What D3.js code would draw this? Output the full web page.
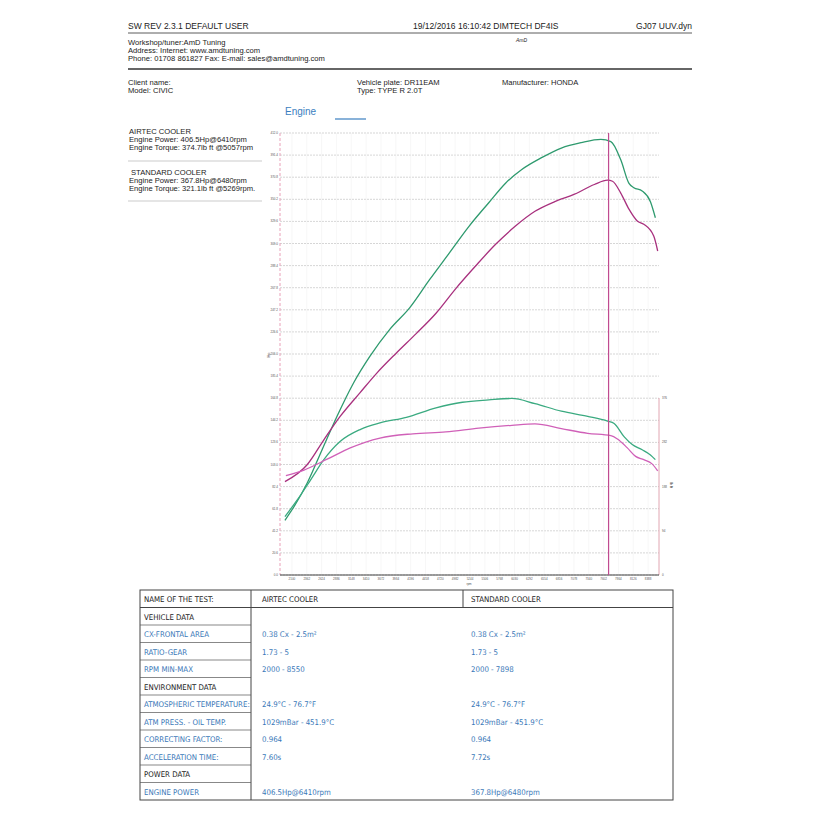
<!DOCTYPE html>
<meta charset="utf-8">
<style>body{margin:0;background:#fff} *{font-family:'Liberation Sans',Arial,sans-serif}</style>
<svg width="825" height="825"></svg>
<script src="https://d3js.org/d3.v7.min.js"></script>
<script>
// rpm, value
var rpmA = [1977,2140,2373,2635,2897,3188,3479,3828,4178,4527,4877,5226,5575,5867,6158,6507,6856,7206,7555,7730,7905,8050,8137,8283,8429,8516];
var powerA = [51,64,86,117,148,179,204,229,249,275,300,325,347,365,378,389,398,403,406,404,387,365,361,358,348,333];
var rpmB = [1977,2373,2664,2955,3304,3595,3945,4294,4644,4993,5342,5692,6041,6391,6740,7089,7439,7672,7759,7905,8050,8196,8312,8487,8557];
var powerB = [87,103,126,148,170,188,207,225,244,267,288,308,325,339,348,355,364,368,367,356,341,330,327,316,302];
var rpmTA = [1977,2198,2431,2664,2955,3304,3654,4120,4644,5110,5575,5983,6391,6856,7322,7672,7788,7963,8108,8283,8429,8516];
var torqueA = [124,160,202,245,284,309,323,335,355,367,372,375,364,348,337,327,322,294,277,266,255,245];
var rpmTB = [1994,2314,2722,3130,3654,4236,4818,5401,5983,6391,6856,7322,7730,7846,8021,8167,8312,8458,8557];
var torqueB = [211,223,246,270,291,300,304,312,318,321,311,301,296,289,270,252,245,236,221];
var cursorRpm = 7690;
var hpTicks = d3.range(0, 413, 20.6);
var tqTicks = [0, 94, 188, 282, 376];

var svg = d3.select("svg");
var x = d3.scaleLinear().domain([1890, 8580]).range([280, 659]);
var y = d3.scaleLinear().domain([0, 412]).range([575, 133]);
var y2 = d3.scaleLinear().domain([0, 376]).range([575, 398]);

function txt(xx, yy, s, size, col, anchor) {
  return svg.append("text").attr("x", xx).attr("y", yy).text(s)
    .style("font-size", (size || 7.6) + "px").attr("fill", col || "#222")
    .attr("text-anchor", anchor || "start");
}
// header
txt(128, 29, "SW REV 2.3.1   DEFAULT USER", 8.5);
txt(413, 29, "19/12/2016 16:10:42    DIMTECH DF4IS", 8.5);
txt(692, 29, "GJ07 UUV.dyn", 8.5, "#222", "end");
svg.append("line").attr("x1", 128).attr("x2", 692).attr("y1", 33).attr("y2", 33).attr("stroke", "#333").attr("stroke-width", 0.8);
txt(128, 45, "Workshop/tuner:AmD Tuning");
txt(128, 53, "Address:  Internet: www.amdtuning.com");
txt(128, 61, "Phone: 01708 861827 Fax:  E-mail: sales@amdtuning.com");
txt(516, 42, "AmD", 5, "#222").style("font-style", "italic");
svg.append("line").attr("x1", 128).attr("x2", 692).attr("y1", 69).attr("y2", 69).attr("stroke", "#333").attr("stroke-width", 1.3);
txt(128, 85, "Client name:");
txt(128, 93, "Model: CIVIC");
txt(357, 85, "Vehicle plate: DR11EAM");
txt(357, 93, "Type: TYPE R 2.0T");
txt(502, 85, "Manufacturer: HONDA");
txt(285, 115, "Engine", 10, "#3a7ec0");
svg.append("line").attr("x1", 335).attr("x2", 366).attr("y1", 119).attr("y2", 119).attr("stroke", "#3a7ec0").attr("stroke-width", 1.2);

txt(129, 134, "AIRTEC COOLER");
txt(129, 142, "Engine Power: 406.5Hp@6410rpm");
txt(129, 150, "Engine Torque: 374.7lb ft @5057rpm");
txt(131, 175, "STANDARD COOLER");
txt(129, 183, "Engine Power: 367.8Hp@6480rpm");
txt(129, 191, "Engine Torque: 321.1lb ft @5269rpm.");
[161, 201].forEach(function(v) {
  svg.append("line").attr("x1", 128).attr("x2", 262).attr("y1", v).attr("y2", v).attr("stroke", "#aaa").attr("stroke-width", 0.6);
});

// grid
var g = svg.append("g");
g.selectAll(".hg").data(hpTicks).join("line")
  .attr("x1", 280).attr("x2", 659).attr("y1", d => y(d)).attr("y2", d => y(d))
  .attr("stroke", "#bbb").attr("stroke-width", 0.6).attr("stroke-dasharray", "2,1");
var xt = d3.range(2100, 8580, 262);
g.selectAll(".vg").data(xt).join("line")
  .attr("x1", d => x(d)).attr("x2", d => x(d)).attr("y1", 133).attr("y2", 575)
  .attr("stroke", "#eee").attr("stroke-width", 0.5);
g.selectAll(".hl").data(hpTicks).join("text")
  .attr("x", 278).attr("y", d => y(d) + 1).attr("text-anchor", "end")
  .style("font-size", "3px").attr("fill", "#555").text(d => d.toFixed(1));
g.selectAll(".xl").data(xt).join("text")
  .attr("x", d => x(d)).attr("y", 580).attr("text-anchor", "middle")
  .style("font-size", "3px").attr("fill", "#555").text(d => Math.round(d));
txt(469, 585, "rpm", 3, "#555", "middle");
g.selectAll(".tl").data(tqTicks).join("text")
  .attr("x", 662).attr("y", d => y2(d) + 1)
  .style("font-size", "3px").attr("fill", "#555").text(d => d);
svg.append("line").attr("x1", 280).attr("x2", 280).attr("y1", 133).attr("y2", 575).attr("stroke", "#e9a0b8").attr("stroke-dasharray", "3,2");
svg.append("line").attr("x1", 659).attr("x2", 659).attr("y1", 398).attr("y2", 575).attr("stroke", "#d9909f").attr("stroke-width", 0.8);
svg.append("line").attr("x1", 280).attr("x2", 659).attr("y1", 575).attr("y2", 575).attr("stroke", "#444").attr("stroke-width", 1);
txt(270, 355, "Hp", 4, "#333", "middle").attr("transform", "rotate(-90,270,355)");
txt(670, 485, "lb ft", 4, "#333", "middle").attr("transform", "rotate(90,670,485)");

function curve(xs, ys, sc, col) {
  var pts = xs.map((d, i) => [d, ys[i]]);
  svg.append("path").datum(pts).attr("fill", "none").attr("stroke", col).attr("stroke-width", 1.3)
    .attr("d", d3.line().x(d => x(d[0])).y(d => sc(d[1])).curve(d3.curveMonotoneX));
}
curve(rpmA, powerA, y, "#2e9a6e");
curve(rpmB, powerB, y, "#a8307e");
curve(rpmTA, torqueA, y2, "#3aaa80");
curve(rpmTB, torqueB, y2, "#d060b8");
svg.append("line").attr("x1", x(cursorRpm)).attr("x2", x(cursorRpm)).attr("y1", 133).attr("y2", 575).attr("stroke", "#c04a90").attr("stroke-width", 1.2);

// table
var rows = [
  ["NAME OF THE TEST:", "AIRTEC COOLER", "STANDARD COOLER", 0],
  ["VEHICLE DATA", "", "", 0],
  ["CX-FRONTAL AREA", "0.38 Cx - 2.5m²", "0.38 Cx - 2.5m²", 1],
  ["RATIO-GEAR", "1.73 - 5", "1.73 - 5", 1],
  ["RPM MIN-MAX", "2000 - 8550", "2000 - 7898", 1],
  ["ENVIRONMENT DATA", "", "", 0],
  ["ATMOSPHERIC TEMPERATURE:", "24.9°C - 76.7°F", "24.9°C - 76.7°F", 1],
  ["ATM PRESS. - OIL TEMP.", "1029mBar - 451.9°C", "1029mBar - 451.9°C", 1],
  ["CORRECTING FACTOR:", "0.964", "0.964", 1],
  ["ACCELERATION TIME:", "  7.60s", "  7.72s", 1],
  ["POWER DATA", "", "", 0],
  ["ENGINE POWER", "406.5Hp@6410rpm", "367.8Hp@6480rpm", 1]
];
var t0 = 590, rh = 17.5;
svg.append("rect").attr("x", 140).attr("y", t0).attr("width", 533).attr("height", rh * 12)
  .attr("fill", "none").attr("stroke", "#444").attr("stroke-width", 1);
svg.append("line").attr("x1", 251).attr("x2", 251).attr("y1", t0).attr("y2", t0 + rh * 12).attr("stroke", "#444");
svg.append("line").attr("x1", 463).attr("x2", 463).attr("y1", t0).attr("y2", t0 + rh).attr("stroke", "#444");
svg.append("line").attr("x1", 140).attr("x2", 673).attr("y1", t0 + rh).attr("y2", t0 + rh).attr("stroke", "#444");
rows.forEach(function(r, i) {
  var yy = t0 + rh * i;
  if (i > 1) svg.append("line").attr("x1", 140).attr("x2", 251).attr("y1", yy).attr("y2", yy).attr("stroke", "#555").attr("stroke-width", 0.7);
  var c = r[3] ? "#3a78b8" : "#222";
  [[144, r[0]], [262, r[1]], [471, r[2]]].forEach(function(p) {
    txt(p[0], yy + 12, p[1], 7.8, c).style("font-family", "'DejaVu Sans Condensed',sans-serif");
  });
});
</script>
